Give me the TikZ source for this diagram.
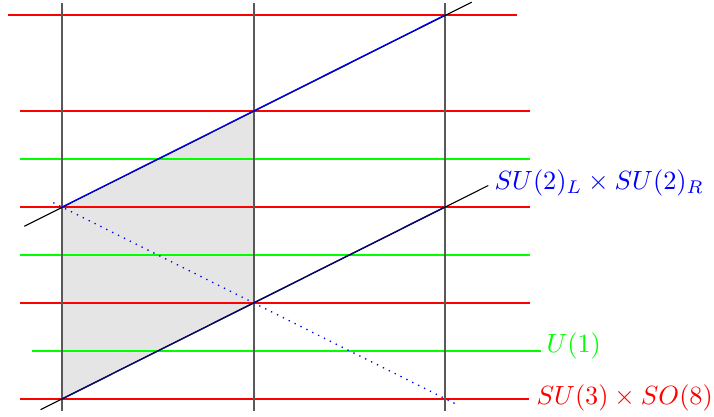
\documentclass[tikz,border=0pt]{standalone}
\usepackage{tikz}
\definecolor{navyline}{RGB}{10,10,110}
\tikzset{
  redline/.style={red, line width=0.4pt},
  greenline/.style={green, line width=0.4pt},
  vline/.style={black!65, line width=0.55pt},
  diag/.style={black, line width=0.4pt},
  blueline/.style={blue, line width=0.45pt},
  dotline/.style={blue, line width=0.5pt, dotted},
  lab/.style={anchor=west, inner sep=0pt, font=\fontsize{10}{12}\selectfont}
}
\begin{document}
\begin{tikzpicture}[x=0.38pt, y=-0.38pt]
\useasboundingbox (0,0) rectangle (714,417);
% grid points
\coordinate (A) at (62,207);
\coordinate (B) at (254,111);
\coordinate (C) at (254,303);
\coordinate (D) at (62,399);
\coordinate (E) at (445,15);
\coordinate (F) at (445,207);
% shaded region
\fill[black!10] (A) -- (B) -- (C) -- (D) -- cycle;
% red lines
\coordinate (r1a) at (8,15);   \coordinate (r1b) at (517,15);
\coordinate (r2a) at (20,111); \coordinate (r2b) at (530,111);
\coordinate (r3a) at (20,207); \coordinate (r3b) at (530,207);
\coordinate (r4a) at (20,303); \coordinate (r4b) at (530,303);
\coordinate (r5a) at (20,399); \coordinate (r5b) at (529,399);
\draw[redline] (r1a) -- (r1b);
\draw[redline] (r2a) -- (r2b);
\draw[redline] (r3a) -- (r3b);
\draw[redline] (r4a) -- (r4b);
\draw[redline] (r5a) -- (r5b);
% green lines
\coordinate (g1a) at (20,159); \coordinate (g1b) at (530,159);
\coordinate (g2a) at (20,255); \coordinate (g2b) at (530,255);
\coordinate (g3a) at (32,351); \coordinate (g3b) at (541,351);
\draw[greenline] (g1a) -- (g1b);
\draw[greenline] (g2a) -- (g2b);
\draw[greenline] (g3a) -- (g3b);
% vertical lines
\coordinate (v1a) at (62,3);    \coordinate (v1b) at (62,411);
\coordinate (v2a) at (254,3);   \coordinate (v2b) at (254,411);
\coordinate (v3a) at (445,3);   \coordinate (v3b) at (445,411);
\draw[vline] (v1a) -- (v1b);
\draw[vline] (v2a) -- (v2b);
\draw[vline] (v3a) -- (v3b);
% diagonals
\coordinate (d1a) at (24.3,226.3); \coordinate (d1b) at (471.7,2.2);
\coordinate (d2a) at (40.5,409.7); \coordinate (d2b) at (488.3,185.5);
\draw[diag] (d1a) -- (d1b);
\draw[diag] (d2a) -- (d2b);
\draw[blueline] (A) -- (E);
\draw[navyline, line width=0.55pt] (D) -- (F);
% dotted
\coordinate (p1) at (53.3,202.7); \coordinate (p2) at (458.3,405.2);
\draw[dotline] (p1) -- (p2);
% labels
\node[lab, text=blue] (l1) at (494,183) {$SU(2)_L\times SU(2)_R$};
\node[lab, text=green] (l2) at (546,346) {$U(1)$};
\node[lab, text=red] (l3) at (536,398) {$SU(3)\times SO(8)$};
\end{tikzpicture}
\end{document}
